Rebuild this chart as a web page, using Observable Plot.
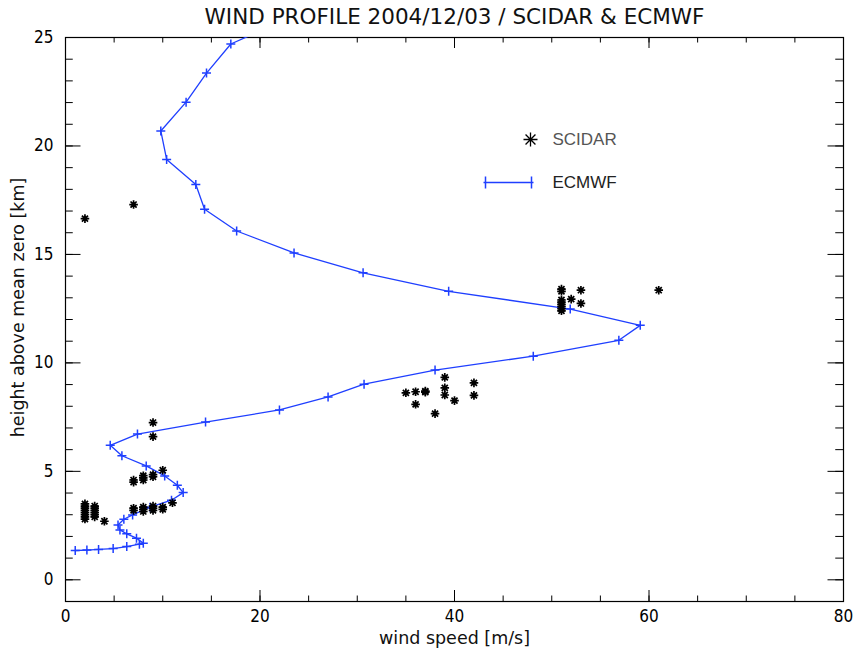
<!DOCTYPE html>
<html><head><meta charset="utf-8">
<script src="https://cdn.jsdelivr.net/npm/d3@7"></script>
<script src="https://cdn.jsdelivr.net/npm/@observablehq/plot@0.6"></script>
<style>body{margin:0;background:#fff} #chart svg{display:block}</style>
</head><body><div id="chart"></div>
<script>
const title = "WIND PROFILE 2004/12/03 / SCIDAR & ECMWF";
const xLabel = "wind speed [m/s]";
const yLabel = "height above mean zero [km]";
const xTickLabels = [0, 20, 40, 60, 80];
const yTickLabels = [0, 5, 10, 15, 20, 25];
const seriesNames = ["SCIDAR", "ECMWF"];

// ECMWF model profile (top to bottom)
const ecmwfSpeed  = [24.0, 17.0, 14.5, 12.4, 9.8, 10.4, 13.4, 14.3, 17.6, 23.5, 30.6, 39.4, 51.9, 59.1, 56.9, 48.1, 38.0, 30.7, 27.0, 22.0, 14.4, 7.4, 4.6, 5.8, 8.3, 10.2, 11.5, 12.1, 10.9, 8.7, 6.9, 6.0, 5.4, 5.6, 6.3, 7.3, 8.0, 7.6, 6.3, 4.9, 3.4, 2.2, 1.0];
const ecmwfHeight = [26.1, 24.7, 23.36, 22.02, 20.69, 19.38, 18.22, 17.08, 16.08, 15.07, 14.15, 13.3, 12.48, 11.73, 11.04, 10.31, 9.67, 9.02, 8.43, 7.83, 7.27, 6.72, 6.2, 5.72, 5.25, 4.79, 4.36, 4.02, 3.67, 3.35, 2.99, 2.79, 2.53, 2.3, 2.12, 1.92, 1.69, 1.64, 1.53, 1.44, 1.4, 1.37, 1.35];

// SCIDAR measurements
const scidarSpeed  = [2, 2, 2, 2, 2, 2, 2, 2, 3, 3, 3, 3, 3, 3, 4,
                      7, 7, 8, 8, 8, 9, 9, 9, 10, 10, 11,
                      7, 7, 8, 8, 8, 9, 9, 10,
                      9, 9, 2, 7,
                      35, 36, 36, 37, 37, 38, 39, 39, 39, 40, 42, 42,
                      51, 51, 51, 51, 51, 51, 51, 51, 52, 53, 53, 61];
const scidarHeight = [2.8, 2.9, 3.0, 3.1, 3.2, 3.3, 3.4, 3.5, 2.9, 3.0, 3.1, 3.2, 3.3, 3.4, 2.7,
                      3.2, 3.3, 3.15, 3.25, 3.35, 3.2, 3.3, 3.4, 3.25, 3.35, 3.55,
                      4.5, 4.6, 4.6, 4.7, 4.8, 4.75, 4.85, 5.05,
                      6.6, 7.25, 16.65, 17.3,
                      8.62, 8.67, 8.09, 8.7, 8.65, 7.66, 9.33, 8.85, 8.52, 8.26, 9.08, 8.5,
                      12.4, 12.5, 12.6, 12.7, 12.8, 12.9, 13.3, 13.4, 12.94, 13.35, 12.74, 13.35];

const ecmwf = ecmwfSpeed.map((s, i) => ({speed: s, height: ecmwfHeight[i]}));
const scidar = scidarSpeed.map((s, i) => ({speed: s, height: scidarHeight[i]}));

const blue = "#1f3fff";
const W = 853, H = 654, mL = 65, mR = 10, mT = 37, mB = 53;
const fw = W - mL - mR, fh = H - mT - mB;
const labelFont = "'DejaVu Sans', sans-serif";
const tickFont = "'Liberation Sans Narrow', 'DejaVu Sans Condensed', 'DejaVu Sans', sans-serif";

const star8 = {draw(ctx, size) {
  const r = Math.sqrt(size / Math.PI), d = r * Math.SQRT1_2;
  ctx.moveTo(-r, 0); ctx.lineTo(r, 0);
  ctx.moveTo(0, -r); ctx.lineTo(0, r);
  ctx.moveTo(-d, -d); ctx.lineTo(d, d);
  ctx.moveTo(-d, d); ctx.lineTo(d, -d);
}};
const plusSym = {draw(ctx, size) {
  const r = Math.sqrt(size / Math.PI);
  ctx.moveTo(-r, 0); ctx.lineTo(r, 0);
  ctx.moveTo(0, -r); ctx.lineTo(0, r);
}};
const legendLine = {draw(ctx) {
  const h = 23, p = 6;
  ctx.moveTo(-h - 2, 0); ctx.lineTo(h + 2, 0);
  ctx.moveTo(-h, -p); ctx.lineTo(-h, p);
  ctx.moveTo(h, -p); ctx.lineTo(h, p);
}};

const xMinor = d3.range(0, 81, 5);
const yMinor = d3.range(-1, 26, 1);

const chart = Plot.plot({
  width: W, height: H,
  marginLeft: mL, marginRight: mR, marginTop: mT, marginBottom: mB,
  style: {fontFamily: tickFont, fontSize: "17px", color: "#000", background: "#fff"},
  x: {domain: [0, 80]},
  y: {domain: [-1, 25]},
  marks: [
    // inward ticks, all four sides
    Plot.tickX(xMinor, {x: d => d, insetTop: fh - 5.5, stroke: "#000"}),
    Plot.tickX(xTickLabels, {x: d => d, insetTop: fh - 11, stroke: "#000"}),
    Plot.tickX(xMinor, {x: d => d, insetBottom: fh - 5.5, stroke: "#000"}),
    Plot.tickX(xTickLabels, {x: d => d, insetBottom: fh - 11, stroke: "#000"}),
    Plot.tickY(yMinor, {y: d => d, insetRight: fw - 7.75, stroke: "#000"}),
    Plot.tickY(yTickLabels, {y: d => d, insetRight: fw - 15.5, stroke: "#000"}),
    Plot.tickY(yMinor, {y: d => d, insetLeft: fw - 7.75, stroke: "#000"}),
    Plot.tickY(yTickLabels, {y: d => d, insetLeft: fw - 15.5, stroke: "#000"}),
    Plot.axisX({ticks: xTickLabels, tickSize: 0, tickPadding: 8, label: null, fontSize: 17}),
    Plot.axisY({ticks: yTickLabels, tickSize: 0, tickPadding: 12, label: null, fontSize: 17}),
    Plot.frame({stroke: "#000", strokeWidth: 1.2}),
    // data
    Plot.line(ecmwf, {x: "speed", y: "height", stroke: blue, strokeWidth: 1.3, clip: true, curve: "linear"}),
    Plot.dot(ecmwf, {x: "speed", y: "height", symbol: plusSym, r: 4.5, fill: "none", stroke: blue, strokeWidth: 1.5, clip: true}),
    Plot.dot(scidar, {x: "speed", y: "height", symbol: star8, r: 4.3, fill: "none", stroke: "#000", strokeWidth: 1.7}),
    // legend
    Plot.dot([seriesNames[0]], {frameAnchor: "top-left", dx: 530 - mL, dy: 139 - mT, symbol: star8, r: 7, fill: "none", stroke: "#000", strokeWidth: 1.3}),
    Plot.text([seriesNames[0]], {frameAnchor: "top-left", dx: 552 - mL, dy: 139 - mT, text: d => d, textAnchor: "start", lineAnchor: "middle", fontFamily: "'Liberation Sans', Arial, sans-serif", fontSize: 17, fill: "#555"}),
    Plot.dot([seriesNames[1]], {frameAnchor: "top-left", dx: 508 - mL, dy: 182 - mT, symbol: legendLine, r: 5, fill: "none", stroke: blue, strokeWidth: 1.5}),
    Plot.text([seriesNames[1]], {frameAnchor: "top-left", dx: 552 - mL, dy: 182 - mT, text: d => d, textAnchor: "start", lineAnchor: "middle", fontFamily: "'Liberation Sans', Arial, sans-serif", fontSize: 17, fill: "#222"}),
    // titles
    Plot.text([title], {frameAnchor: "top", dy: -20, text: d => d, lineAnchor: "middle", textAnchor: "middle", fontFamily: labelFont, fontSize: 21.5, fill: "#111"}),
    Plot.text([xLabel], {frameAnchor: "bottom", dy: 37, text: d => d, lineAnchor: "middle", textAnchor: "middle", fontFamily: labelFont, fontSize: 17.5, fill: "#111"}),
    Plot.text([yLabel], {frameAnchor: "left", dx: -47, dy: -12, rotate: -90, text: d => d, lineAnchor: "middle", textAnchor: "middle", fontFamily: labelFont, fontSize: 17.5, fill: "#111"})
  ]
});
document.getElementById("chart").append(chart);
</script>
</body></html>
